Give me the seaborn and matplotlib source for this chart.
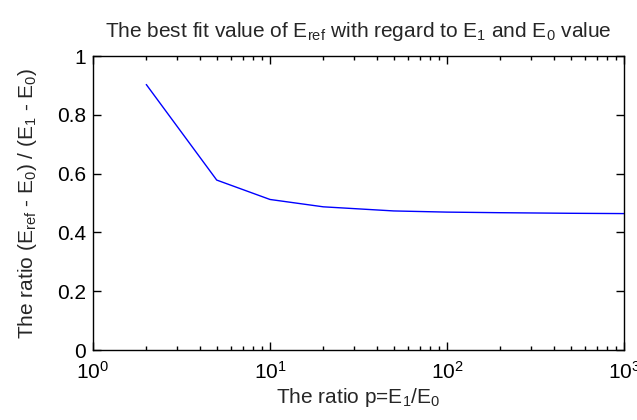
import matplotlib
matplotlib.use("Agg")
import matplotlib.pyplot as plt
import seaborn as sns
import pandas as pd
from matplotlib.ticker import LogLocator, FixedLocator

# data
p_ratio = [2, 5, 10, 20, 50, 100, 200, 500, 1000]
e_ratio = [0.903, 0.578, 0.512, 0.487, 0.473, 0.469, 0.467, 0.465, 0.464]
y_ticks = [0, 0.2, 0.4, 0.6, 0.8, 1]
y_ticklabels = ["0", "0.2", "0.4", "0.6", "0.8", "1"]

sns.set_style("white")
plt.rcParams['font.family'] = ['Liberation Sans', 'DejaVu Sans']
plt.rcParams['mathtext.default'] = 'regular'
plt.rcParams['mathtext.fontset'] = 'custom'
plt.rcParams['mathtext.rm'] = 'Liberation Sans'

df = pd.DataFrame({"p": p_ratio, "r": e_ratio})

fig = plt.figure(figsize=(6.37, 4.2), dpi=100)
ax = fig.add_axes([93/637, 1-350/420, (624-93)/637, (350-56)/420])
sns.lineplot(data=df, x="p", y="r", ax=ax, color="#0000ff", linewidth=1.0)
ax.set_xscale("log")
ax.set_xlim(1, 1000)
ax.set_ylim(0, 1)
ax.yaxis.set_major_locator(FixedLocator(y_ticks))
ax.set_yticklabels(y_ticklabels)
ax.xaxis.set_major_locator(LogLocator(base=10, numticks=10))
ax.xaxis.set_minor_locator(LogLocator(base=10, subs=range(2, 10), numticks=20))

for s in ax.spines.values():
    s.set_color("black")
    s.set_linewidth(1.0)
ax.tick_params(which="both", direction="in", top=True, right=True, bottom=True, left=True,
               colors="black", labelsize=15)
ax.tick_params(which="major", length=6, width=1)
ax.tick_params(which="minor", length=3, width=1)
ax.tick_params(axis="x", which="major", pad=8)
ax.tick_params(axis="y", which="major", pad=5)

ax.set_title("The best fit value of E$_{ref}$ with regard to E$_1$ and E$_0$ value",
             fontsize=15, pad=14)
ax.set_xlabel("The ratio p=E$_1$/E$_0$", fontsize=15, labelpad=2)
ax.set_ylabel("The ratio (E$_{ref}$ - E$_0$) / (E$_1$ - E$_0$)", fontsize=15, labelpad=13)

fig.savefig("out.png", dpi=100, facecolor="white")
